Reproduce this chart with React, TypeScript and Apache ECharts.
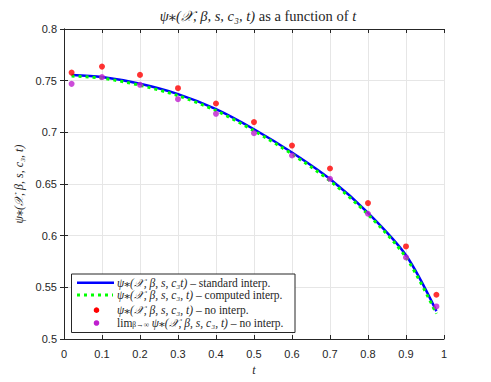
import React, { useEffect, useRef } from "react";
import * as echarts from "echarts";

const tPoints = [0.02, 0.1, 0.2, 0.3, 0.4, 0.5, 0.6, 0.7, 0.8, 0.9, 0.98];
const standardInterp = [0.7555, 0.7535, 0.747, 0.737, 0.7225, 0.703, 0.6805, 0.6548, 0.622, 0.581, 0.527];
const computedInterp = [0.7545, 0.7525, 0.7455, 0.7355, 0.721, 0.7015, 0.679, 0.653, 0.6205, 0.579, 0.5245];
const noInterp = [0.7578, 0.7636, 0.7556, 0.7427, 0.7279, 0.7099, 0.6872, 0.665, 0.6315, 0.5896, 0.5428];
const limNoInterp = [0.7469, 0.7534, 0.746, 0.7321, 0.7179, 0.6992, 0.6776, 0.655, 0.6212, 0.5789, 0.5315];

const legendLabels = [
  ["ψ⁎(𝒳, β, s, c₃t)", " – standard interp."],
  ["ψ⁎(𝒳, β, s, c₃, t)", " – computed interp."],
  ["ψ⁎(𝒳, β, s, c₃, t)", " – no interp."],
  ["ψ⁎(𝒳, β, s, c₃, t)", " – no interp."],
];
const titleMath = "ψ⁎(𝒳, β, s, c₃, t)";
const titleWords = " as a function of ";
const titleVar = "t";
const yName = "ψ⁎(𝒳, β, s, c₃, t)";

const BLUE = "#0000ff";
const GREEN = "#00ff00";
const RED = "#ff0000";
const PURPLE = "#bf1fcf";
const SERIF = "'Liberation Serif', 'DejaVu Serif', serif";
const SANS = "Helvetica, Arial, 'Liberation Sans', sans-serif";

const pair = (v: number[]) => v.map((y, i) => [tPoints[i], y]);

export default function App() {
  const ref = useRef<HTMLDivElement>(null);
  useEffect(() => {
    if (!ref.current) return;
    const chart = echarts.init(ref.current, null, { renderer: "svg" });
    const axisCommon = {
      axisLine: { show: true, lineStyle: { color: "#262626", width: 1 } },
      axisTick: { show: true, inside: true, length: 4, lineStyle: { color: "#262626" } },
      axisLabel: { color: "#262626", fontSize: 11, fontFamily: SANS },
    };
    const rich = {
      m: { fontFamily: SERIF, fontStyle: "italic", fontSize: 11.5, lineHeight: 11, fill: "#262626" },
      r: { fontFamily: SERIF, fontSize: 11.5, lineHeight: 11, fill: "#262626" },
      l: { fontFamily: SERIF, fontSize: 11.5, lineHeight: 11, fill: "#262626" },
      s: { fontFamily: SERIF, fontSize: 7.5, lineHeight: 11, verticalAlign: "bottom", fill: "#262626" },
    };
    const rowsY = [282.7, 295, 310.2, 323];
    const textX = 117;
    const legendGraphics: any[] = [
      {
        type: "rect",
        shape: { x: 71.5, y: 274, width: 223.5, height: 58.5 },
        style: { fill: "#ffffff", stroke: "#262626", lineWidth: 1 },
        z: 100,
      },
      {
        type: "line",
        shape: { x1: 77, y1: rowsY[0], x2: 114, y2: rowsY[0] },
        style: { stroke: BLUE, lineWidth: 2.5 },
        z: 101,
      },
      {
        type: "line",
        shape: { x1: 77, y1: rowsY[1], x2: 113, y2: rowsY[1] },
        style: { stroke: GREEN, lineWidth: 3, lineDash: [3, 4] },
        z: 101,
      },
      { type: "circle", shape: { cx: 96.5, cy: rowsY[2], r: 2.8 }, style: { fill: RED }, z: 101 },
      { type: "circle", shape: { cx: 96.5, cy: rowsY[3], r: 2.8 }, style: { fill: PURPLE }, z: 101 },
    ];
    legendLabels.forEach((lab, i) => {
      const txt =
        i === 3
          ? `{l|lim}{s|β→∞}{m| ${lab[0]}}{r|${lab[1]}}`
          : `{m|${lab[0]}}{r|${lab[1]}}`;
      legendGraphics.push({
        type: "text",
        x: textX,
        y: rowsY[i],
        z: 101,
        style: { text: txt, rich, verticalAlign: "middle", align: "left" },
      });
    });

    chart.setOption({
      animation: false,
      backgroundColor: "#ffffff",
      title: {
        text: `{m|${titleMath}}{r|${titleWords}}{m|${titleVar}}`,
        left: 253,
        textAlign: "center",
        top: 3,
        textStyle: {
          fontFamily: SERIF,
          fontSize: 14.5,
          fontWeight: "normal",
          color: "#262626",
          rich: {
            m: { fontFamily: SERIF, fontStyle: "italic", fontSize: 14.5, color: "#262626" },
            r: { fontFamily: SERIF, fontSize: 14.5, color: "#262626" },
          },
        },
      },
      grid: { left: 64, right: 47, top: 29, bottom: 43, containLabel: false },
      xAxis: [
        {
          type: "value",
          min: 0,
          max: 1,
          interval: 0.1,
          name: "t",
          nameLocation: "middle",
          nameGap: 22,
          nameTextStyle: { fontFamily: SERIF, fontStyle: "italic", fontSize: 12, color: "#262626" },
          ...axisCommon,
          axisLabel: { ...axisCommon.axisLabel, margin: 9 },
          splitLine: { show: true, lineStyle: { color: "#e6e6e6", width: 1 } },
        },
        {
          type: "value",
          position: "top",
          min: 0,
          max: 1,
          interval: 0.1,
          ...axisCommon,
          axisLabel: { show: false },
          splitLine: { show: false },
        },
      ],
      yAxis: [
        {
          type: "value",
          min: 0.5,
          max: 0.8,
          interval: 0.05,
          name: yName,
          nameLocation: "middle",
          nameGap: 36,
          nameTextStyle: { fontFamily: SERIF, fontStyle: "italic", fontSize: 12, color: "#262626" },
          ...axisCommon,
          axisLabel: { ...axisCommon.axisLabel, margin: 7 },
          splitLine: { show: true, lineStyle: { color: "#e6e6e6", width: 1 } },
        },
        {
          type: "value",
          position: "right",
          min: 0.5,
          max: 0.8,
          interval: 0.05,
          ...axisCommon,
          axisLabel: { show: false },
          splitLine: { show: false },
        },
      ],
      graphic: legendGraphics,
      series: [
        {
          name: "standard",
          type: "line",
          data: pair(standardInterp),
          smooth: 0.3,
          showSymbol: false,
          lineStyle: { color: BLUE, width: 2.5 },
          z: 2,
        },
        {
          name: "computed",
          type: "line",
          data: pair(computedInterp),
          smooth: 0.3,
          showSymbol: false,
          lineStyle: { color: GREEN, width: 3, type: [3, 4] },
          z: 3,
        },
        {
          name: "noInterp",
          type: "scatter",
          data: pair(noInterp),
          symbolSize: 6,
          itemStyle: { color: RED },
          z: 4,
        },
        {
          name: "limNoInterp",
          type: "scatter",
          data: pair(limNoInterp),
          symbolSize: 6,
          itemStyle: { color: PURPLE },
          z: 5,
        },
      ],
    });
    return () => chart.dispose();
  }, []);
  return (
    <div
      ref={ref}
      style={{ position: "absolute", left: 0, top: 0, width: 491, height: 382 }}
    />
  );
}
